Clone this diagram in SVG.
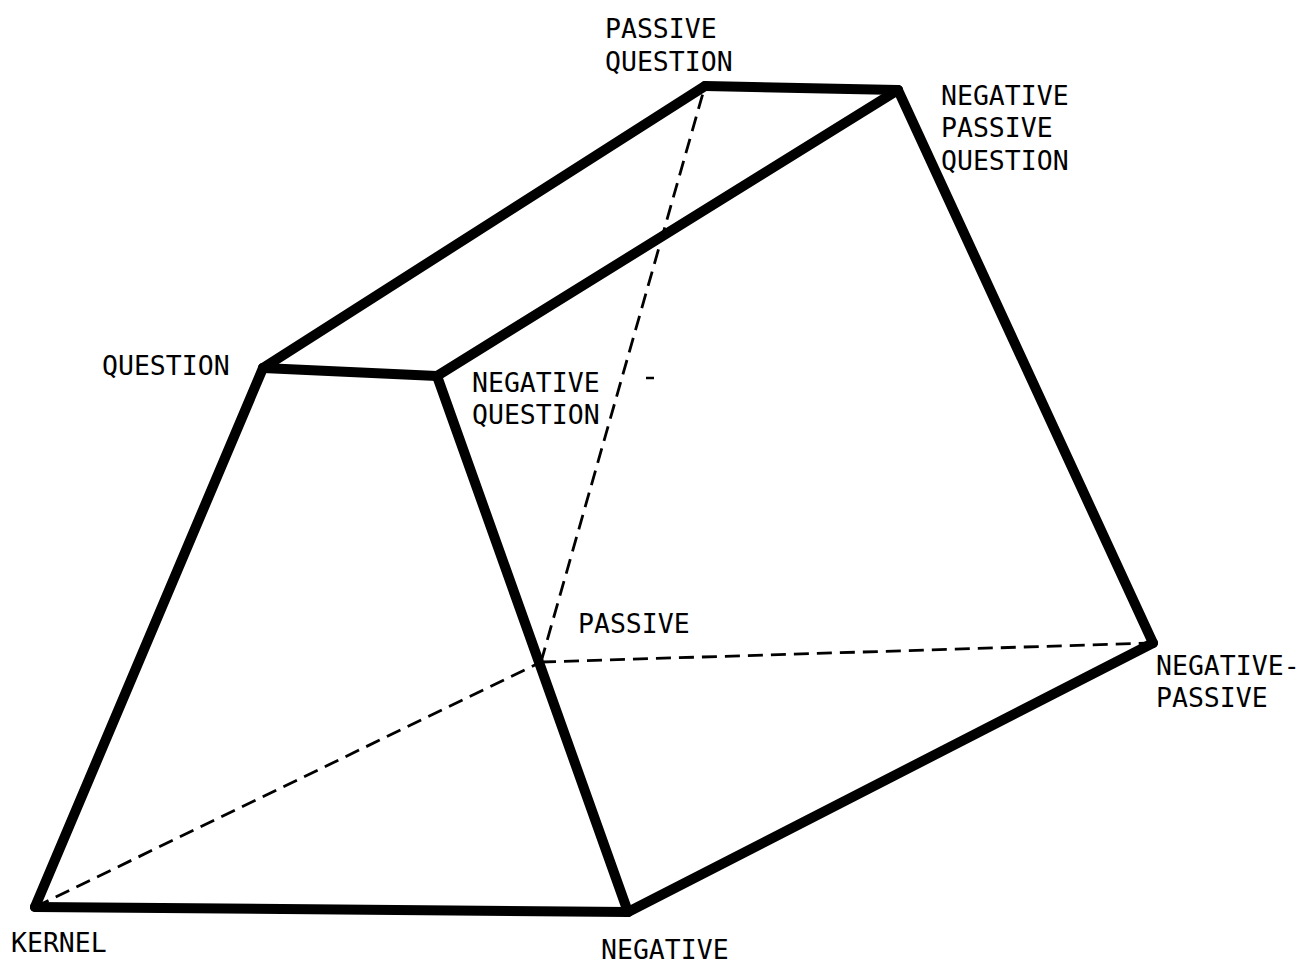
<svg xmlns="http://www.w3.org/2000/svg" width="1302" height="969" viewBox="0 0 1302 969">
<style>
.edge{fill:none;stroke:#000;stroke-width:10;stroke-linecap:round;stroke-linejoin:round}
.hidden{fill:none;stroke:#000;stroke-width:2.8;stroke-dasharray:15 8}
.lbl{font-family:"DejaVu Sans Mono","Liberation Mono",monospace;font-size:26.5px;fill:#000}
</style>
<rect width="1302" height="969" fill="#fff"/>
<g id="connectors">
<line class="hidden" x1="35" y1="907" x2="541" y2="662"/>
<line class="hidden" x1="541" y1="662" x2="1153" y2="643"/>
<line class="hidden" x1="541" y1="662" x2="705" y2="86"/>
<line class="edge" x1="35" y1="907" x2="628" y2="912"/>
<line class="edge" x1="35" y1="907" x2="263" y2="368"/>
<line class="edge" x1="263" y1="368" x2="437" y2="376"/>
<line class="edge" x1="437" y1="376" x2="628" y2="912"/>
<line class="edge" x1="263" y1="368" x2="705" y2="86"/>
<line class="edge" x1="437" y1="376" x2="898" y2="90"/>
<line class="edge" x1="705" y1="86" x2="898" y2="90"/>
<line class="edge" x1="898" y1="90" x2="1153" y2="643"/>
<line class="edge" x1="628" y1="912" x2="1153" y2="643"/>
<line x1="646" y1="378" x2="654" y2="378" stroke="#000" stroke-width="2.5"/>
</g>
<g id="kernel"><text class="lbl" x="11" y="952">KERNEL</text></g>
<g id="negative"><text class="lbl" x="601" y="959">NEGATIVE</text></g>
<g id="question"><text class="lbl" x="102" y="375">QUESTION</text></g>
<g id="negative-question"><text class="lbl" x="472" y="392">NEGATIVE</text><text class="lbl" x="472" y="424">QUESTION</text></g>
<g id="passive"><text class="lbl" x="578" y="633">PASSIVE</text></g>
<g id="negative-passive"><text class="lbl" x="1156" y="675">NEGATIVE-</text><text class="lbl" x="1156" y="707">PASSIVE</text></g>
<g id="passive-question"><text class="lbl" x="605" y="38">PASSIVE</text><text class="lbl" x="605" y="71">QUESTION</text></g>
<g id="negative-passive-question"><text class="lbl" x="941" y="105">NEGATIVE</text><text class="lbl" x="941" y="137">PASSIVE</text><text class="lbl" x="941" y="170">QUESTION</text></g>
</svg>
